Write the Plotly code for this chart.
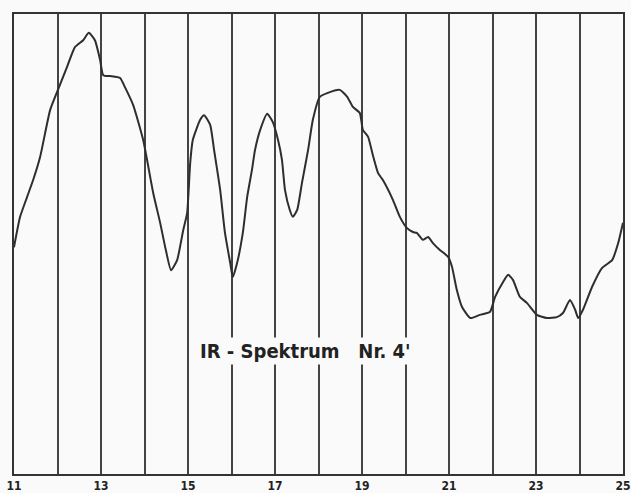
import plotly.graph_objects as go

wavelength = [11.00, 11.14, 11.30, 11.44, 11.60, 11.83, 12.01, 12.22, 12.40, 12.59,
              12.72, 12.86, 12.98, 13.05, 13.21, 13.44, 13.55, 13.74, 13.97, 14.20,
              14.36, 14.49, 14.61, 14.75, 14.89, 14.98, 15.05, 15.11, 15.28, 15.37,
              15.51, 15.60, 15.74, 15.85, 15.97, 16.03, 16.13, 16.26, 16.36, 16.47,
              16.54, 16.66, 16.82, 16.95, 17.07, 17.16, 17.23, 17.34, 17.41, 17.51,
              17.62, 17.76, 17.87, 18.03, 18.20, 18.49, 18.66, 18.79, 18.95, 19.02,
              19.14, 19.25, 19.37, 19.48, 19.71, 19.87, 20.03, 20.17, 20.26, 20.40,
              20.52, 20.63, 20.79, 20.98, 21.07, 21.18, 21.30, 21.49, 21.71, 21.94,
              22.06, 22.24, 22.36, 22.47, 22.63, 22.79, 23.02, 23.25, 23.48, 23.62,
              23.78, 23.90, 23.97, 24.08, 24.29, 24.52, 24.75, 24.89, 25.00]
transmission = [49.3, 55.9, 60.2, 63.9, 68.9, 79.1, 83.5, 88.5, 92.8, 94.3,
                95.9, 94.3, 90.0, 86.7, 86.5, 86.1, 84.1, 80.2, 72.6, 61.1,
                54.6, 48.7, 44.3, 46.5, 53.0, 56.7, 67.6, 72.6, 77.0, 78.0,
                75.9, 70.4, 61.7, 52.4, 45.9, 42.8, 45.9, 52.4, 60.2, 66.1,
                70.4, 74.8, 78.3, 76.5, 72.6, 68.3, 61.7, 57.4, 55.9, 57.4,
                63.3, 70.4, 77.0, 82.0, 82.8, 83.5, 82.0, 79.8, 78.5, 74.8,
                73.3, 69.3, 65.4, 63.9, 59.6, 55.9, 53.5, 52.6, 52.4, 50.9,
                51.5, 50.2, 48.7, 47.2, 45.0, 40.0, 36.3, 33.9, 34.6, 35.2,
                38.5, 41.7, 43.3, 42.2, 38.5, 37.2, 34.6, 33.9, 34.1, 35.0,
                37.8, 35.7, 33.9, 35.7, 40.7, 44.8, 46.5, 50.2, 54.6]

tick_vals = list(range(11, 26))
tick_text = ["<b>%d</b>" % v if v % 2 == 1 else "" for v in tick_vals]
title_text = "<b>IR - Spektrum   Nr. 4'</b>"

fig = go.Figure()
fig.add_trace(go.Scatter(
    x=wavelength, y=transmission, mode="lines",
    line=dict(color="#2e2e2e", width=2, shape="spline", smoothing=0.5),
    hoverinfo="skip", showlegend=False,
))

fig.add_annotation(
    x=17.71, y=26.7, xref="x", yref="y", text=title_text, showarrow=False,
    font=dict(family="DejaVu Sans Condensed, DejaVu Sans", size=20, color="#222"),
    bgcolor="rgba(250,250,250,1)",
)

fig.update_layout(
    width=631, height=493,
    margin=dict(l=14, r=8, t=14, b=19),
    paper_bgcolor="#fafafa", plot_bgcolor="#fafafa",
    xaxis=dict(
        range=[11, 25], tickvals=tick_vals, ticktext=tick_text,
        showgrid=True, gridcolor="#444", gridwidth=1.5,
        showline=True, linecolor="#333", linewidth=2, mirror=True,
        ticks="", zeroline=False, automargin=False,
        tickfont=dict(family="DejaVu Sans Condensed, DejaVu Sans", size=12, color="#222"),
    ),
    yaxis=dict(
        range=[0, 100], showgrid=False, showticklabels=False,
        showline=True, linecolor="#333", linewidth=2, mirror=True,
        ticks="", zeroline=False, automargin=False,
    ),
)

fig.write_html("out.html")
